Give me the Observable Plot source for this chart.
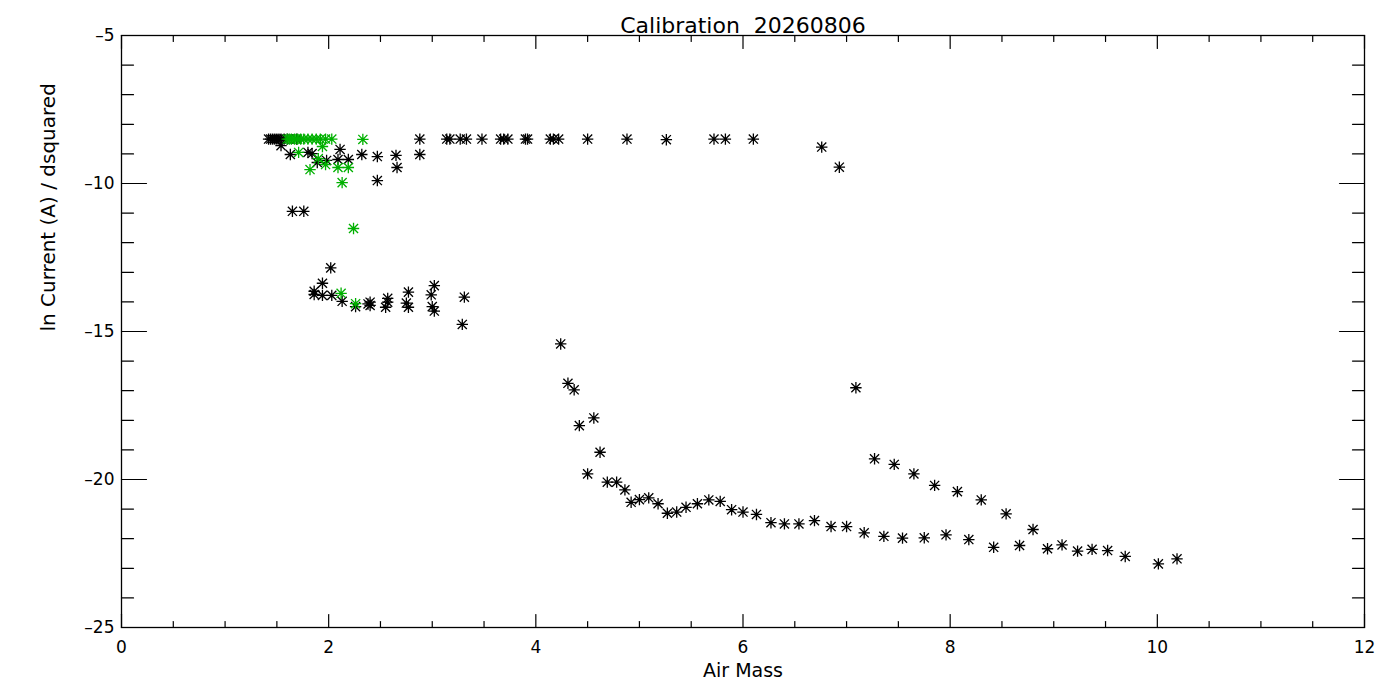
<!DOCTYPE html>
<html><head><meta charset="utf-8">
<script src="https://cdn.jsdelivr.net/npm/d3@7"></script>
<script src="https://cdn.jsdelivr.net/npm/@observablehq/plot@0.6"></script>
<style>body{margin:0;background:#fff}</style>
</head><body><div id="chart"></div>
<script>
const title = "Calibration  20260806";
const xLabel = "Air Mass";
const yLabel = "ln Current (A) / dsquared";

const xMajor = [0, 2, 4, 6, 8, 10, 12];
const xMinor = d3.range(0, 12.01, 0.5).filter(v => v % 2 !== 0);
const yMajor = [-25, -20, -15, -10, -5];
const yMinor = d3.range(-25, -4.99, 1).filter(v => v % 5 !== 0);

// black series (air mass, ln current / d^2)
const blackX = [
  1.42,1.44,1.46,1.48,1.50,1.52,1.54,1.57,1.60,1.69,
  1.54,1.63,1.80,1.84,2.11,2.32,2.47,2.65,2.88,1.89,1.98,2.09,2.19,2.66,2.47,1.65,1.76,
  2.88,3.14,3.17,3.27,3.33,3.48,3.66,3.69,3.73,3.90,3.92,4.14,4.17,4.22,4.50,4.88,5.26,5.72,5.83,6.10,6.76,6.93,
  2.02,1.94,1.86,1.86,1.94,2.03,2.13,2.26,2.40,2.40,2.38,2.57,2.57,2.55,2.77,2.75,2.77,3.02,2.99,3.00,3.02,3.31,3.29,
  4.24,4.31,4.37,4.42,4.56,4.62,4.50,4.69,4.78,4.86,4.92,5.00,5.09,5.18,5.27,5.36,5.45,5.56,5.67,5.78,5.89,6.00,
  6.13,6.27,6.40,6.54,6.69,6.85,7.00,7.17,7.36,7.54,7.75,7.96,8.18,8.42,8.67,8.94,9.08,9.23,9.37,9.52,9.69,10.01,10.19,
  7.09,7.27,7.46,7.65,7.85,8.07,8.30,8.54,8.80
];
const blackY = [
  -8.50,-8.50,-8.50,-8.50,-8.50,-8.50,-8.50,-8.50,-8.50,-8.50,
  -8.72,-9.02,-8.95,-8.99,-8.85,-9.02,-9.09,-9.05,-9.02,-9.29,-9.22,-9.19,-9.19,-9.46,-9.90,-10.94,-10.94,
  -8.50,-8.50,-8.50,-8.50,-8.50,-8.50,-8.50,-8.50,-8.50,-8.50,-8.50,-8.50,-8.50,-8.50,-8.50,-8.50,-8.52,-8.50,-8.50,-8.50,-8.77,-9.45,
  -12.85,-13.37,-13.64,-13.75,-13.78,-13.78,-13.98,-14.16,-14.01,-14.12,-14.07,-13.88,-14.01,-14.18,-13.67,-14.04,-14.18,-13.45,-13.76,-14.16,-14.31,-13.84,-14.76,
  -15.42,-16.75,-16.97,-18.18,-17.92,-19.08,-19.81,-20.09,-20.09,-20.35,-20.77,-20.68,-20.62,-20.82,-21.14,-21.10,-20.94,-20.82,-20.69,-20.74,-21.02,-21.10,
  -21.18,-21.46,-21.50,-21.50,-21.39,-21.59,-21.59,-21.80,-21.92,-21.98,-21.97,-21.87,-22.03,-22.29,-22.23,-22.34,-22.21,-22.42,-22.36,-22.40,-22.60,-22.85,-22.68,
  -16.90,-19.30,-19.49,-19.81,-20.20,-20.41,-20.69,-21.16,-21.69
];

// green series
const greenX = [1.60,1.62,1.64,1.67,1.70,1.73,1.76,1.80,1.84,1.88,1.92,1.97,2.03,
  2.33,1.71,1.94,1.90,1.97,2.09,2.19,1.82,2.13,2.24,2.12,2.26];
const greenY = [-8.50,-8.50,-8.50,-8.50,-8.50,-8.50,-8.50,-8.50,-8.50,-8.50,-8.50,-8.50,-8.50,
  -8.51,-8.95,-8.75,-9.16,-9.36,-9.46,-9.46,-9.53,-9.97,-11.52,-13.71,-14.06];

const idlAsterisk = {
  draw(ctx, size) {
    const r = Math.sqrt(size / Math.PI);
    const d = r * 0.8;
    ctx.moveTo(-r, 0); ctx.lineTo(r, 0);
    ctx.moveTo(0, -r); ctx.lineTo(0, r);
    ctx.moveTo(-d, -d); ctx.lineTo(d, d);
    ctx.moveTo(-d, d); ctx.lineTo(d, -d);
  }
};
const lineShape = {draw(ctx, l) { ctx.moveTo(0, 0); ctx.lineTo(0, -l); }};
const tickStyle = {stroke: "black", strokeWidth: 1.2, anchor: "start", shape: lineShape};
const fmt = d => d < 0 ? "\u2013" + Math.abs(d) : String(d);

const chart = Plot.plot({
  width: 1400,
  height: 700,
  marginLeft: 121,
  marginRight: 36,
  marginTop: 35,
  marginBottom: 73,
  style: {fontFamily: "DejaVu Sans", fontSize: "17px", color: "black", background: "white"},
  x: {domain: [0, 12], axis: null},
  y: {domain: [-25, -5], axis: null},
  marks: [
    Plot.frame({stroke: "black", strokeWidth: 1.3}),
    Plot.axisX(xMajor, {anchor: "bottom", tickSize: 0, tickPadding: 13, label: null, tickFormat: fmt}),
    Plot.axisY(yMajor, {anchor: "left", tickSize: 0, tickPadding: 7, label: null, tickFormat: fmt}),
    Plot.vector(xMajor, {x: d => d, frameAnchor: "bottom", rotate: 0, length: 13, ...tickStyle}),
    Plot.vector(xMinor, {x: d => d, frameAnchor: "bottom", rotate: 0, length: 6, ...tickStyle}),
    Plot.vector(xMajor, {x: d => d, frameAnchor: "top", rotate: 180, length: 13, ...tickStyle}),
    Plot.vector(xMinor, {x: d => d, frameAnchor: "top", rotate: 180, length: 6, ...tickStyle}),
    Plot.vector(yMajor, {y: d => d, frameAnchor: "left", rotate: 90, length: 25, ...tickStyle}),
    Plot.vector(yMinor, {y: d => d, frameAnchor: "left", rotate: 90, length: 12, ...tickStyle}),
    Plot.vector(yMajor, {y: d => d, frameAnchor: "right", rotate: -90, length: 25, ...tickStyle}),
    Plot.vector(yMinor, {y: d => d, frameAnchor: "right", rotate: -90, length: 12, ...tickStyle}),
    Plot.dot(blackX, {x: blackX, y: blackY, symbol: idlAsterisk, r: 5.7, stroke: "black", fill: "none", strokeWidth: 1.3}),
    Plot.dot(greenX, {x: greenX, y: greenY, symbol: idlAsterisk, r: 5.7, stroke: "#00b000", fill: "none", strokeWidth: 1.3}),
    Plot.text([title], {frameAnchor: "top", dy: -18, fontSize: 22}),
    Plot.text([xLabel], {frameAnchor: "bottom", dy: 49, fontSize: 19}),
    Plot.text([yLabel], {frameAnchor: "left", rotate: -90, dx: -73, fontSize: 20})
  ]
});
document.getElementById("chart").appendChild(chart);
</script>
</body></html>
